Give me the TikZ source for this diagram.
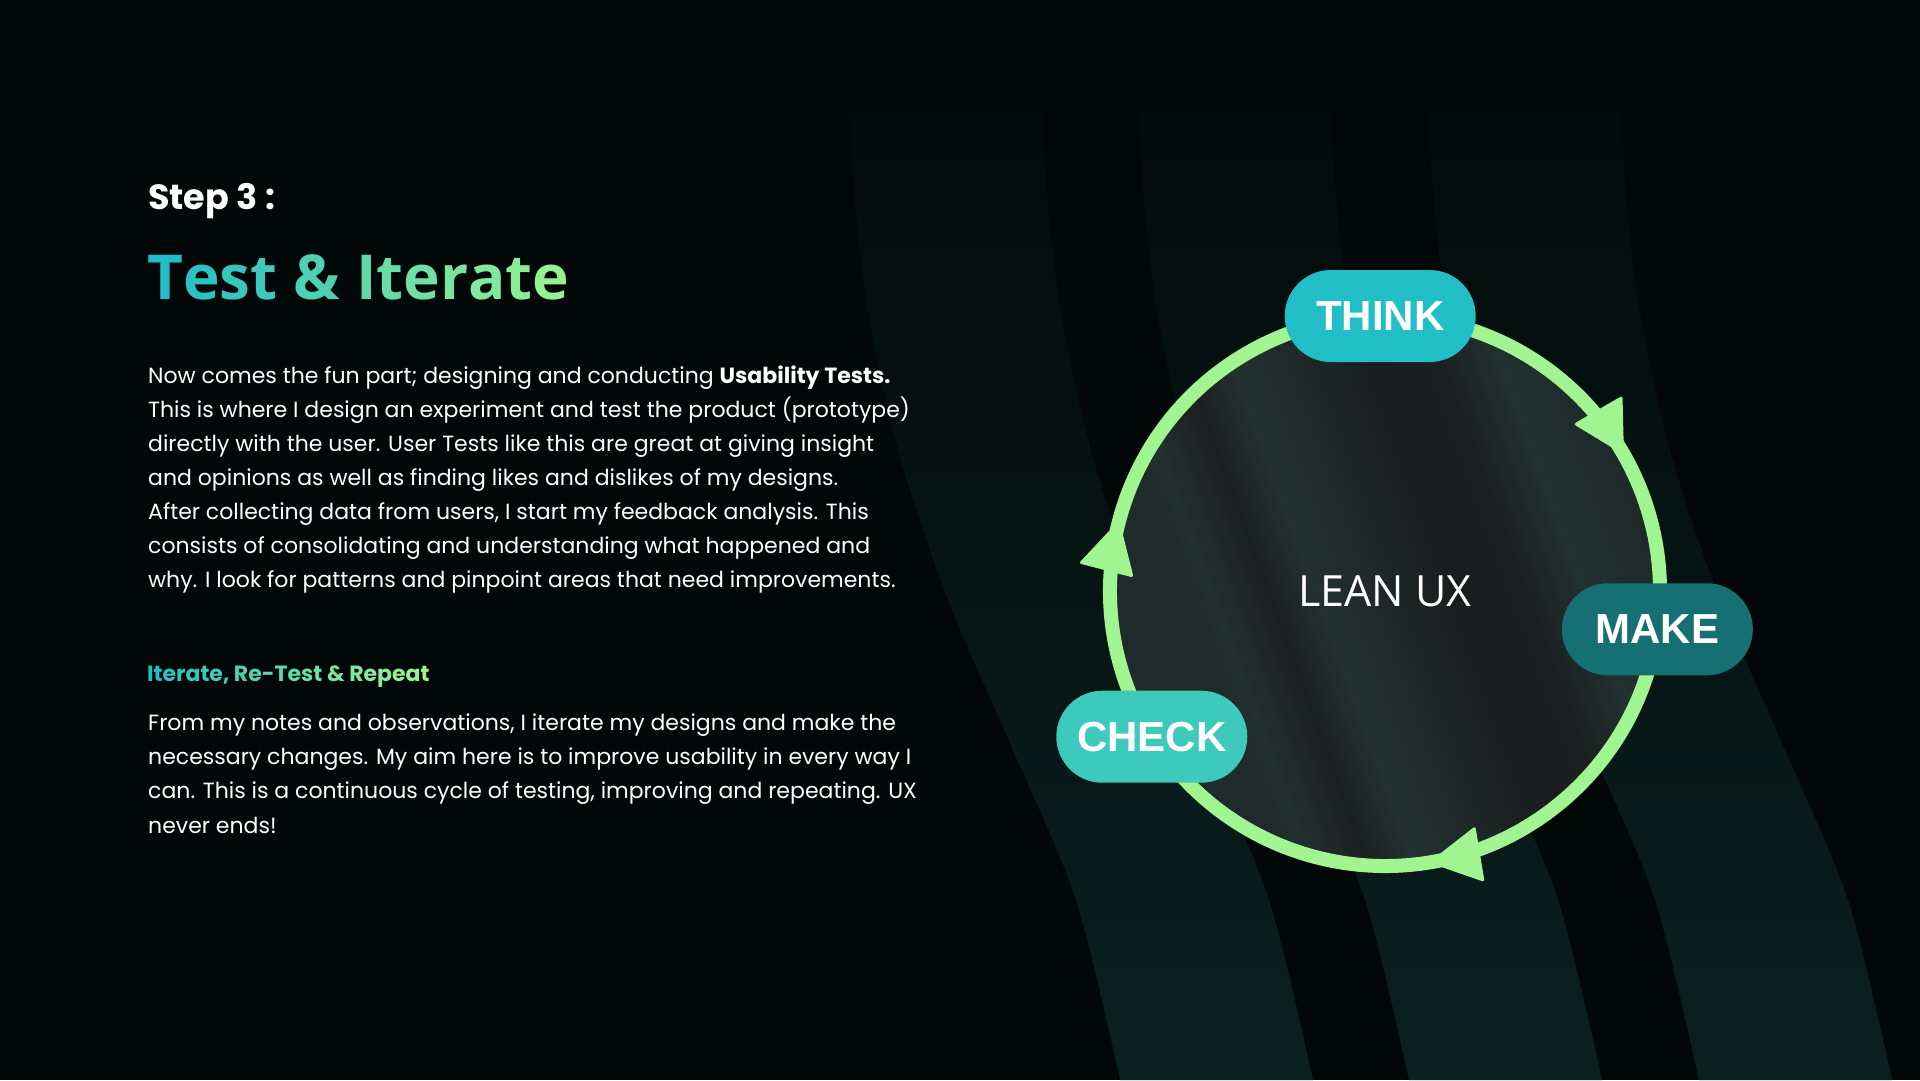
\documentclass[tikz,border=0pt]{standalone}
\usepackage{fontspec}
\setmainfont{Poppins}
\newfontfamily\titlefont{Open Sans}
\newfontfamily\leanfont{Open Sans}
\newfontfamily\pillfont{Liberation Sans}
\usetikzlibrary{arrows.meta,decorations.markings,shapes.misc}
\definecolor{bgc}{HTML}{010807}
\definecolor{bandc}{HTML}{0A201F}
\definecolor{ringc}{HTML}{A0F590}
\definecolor{thinkc}{HTML}{22BEC6}
\definecolor{makec}{HTML}{167073}
\definecolor{checkc}{HTML}{3DC9BC}
\definecolor{gA}{HTML}{22BCC8}
\definecolor{gB}{HTML}{9CF48F}
\definecolor{dA}{HTML}{1F2A2A}
\definecolor{dB}{HTML}{223030}
\definecolor{dC}{HTML}{1B1F1F}
\definecolor{dD}{HTML}{233131}
\definecolor{dE}{HTML}{1E2828}
\definecolor{dF}{HTML}{1A1D1D}
\definecolor{dG}{HTML}{1B1F1F}
\definecolor{dH}{HTML}{223131}
\pgfdeclarehorizontalshading{discsh}{100bp}{color(0bp)=(dA); color(25bp)=(dA); color(33bp)=(dA); color(35bp)=(dB); color(40bp)=(dC); color(44bp)=(dD); color(50bp)=(dE); color(56bp)=(dF); color(62bp)=(dG); color(67bp)=(dH); color(75bp)=(dE); color(100bp)=(dE)}
\pgfdeclarelayer{back}
\pgfdeclarelayer{ringl}
\pgfsetlayers{back,ringl,main}
\newcommand\gc[2]{\textcolor{gB!#1!gA}{#2}}
\tikzset{
  pill/.style={rounded rectangle, minimum width=191pt, minimum height=92pt, inner sep=0pt, text=white, font=\pillfont\bfseries\fontsize{42}{50}\selectfont},
  ring/.style={draw=ringc, line width=14pt},
  arrowmark/.style={decoration={markings, mark=at position #1 with {\arrow{Triangle[length=52pt,width=56pt,line width=3pt,round]}}}, postaction={decorate}},
  bodyline/.style={anchor=base west, inner sep=0pt, text=white, font=\fontsize{22}{26}\selectfont},
}
\begin{document}
\begin{tikzpicture}[x=1pt,y=1pt]
\useasboundingbox (0,0) rectangle (1920,1080);
\coordinate (C) at (1385,489);
% nodes
\node[pill, fill=thinkc] (THINK) at ([shift={(91:275pt)}]C) {THINK};
\node[pill, fill=makec] (MAKE) at ([shift={(-8:275pt)}]C) {MAKE};
\node[pill, fill=checkc] (CHECK) at ([shift={(212:275pt)}]C) {CHECK};
\node[text=white, font=\leanfont\fontsize{43}{50}\selectfont] (LEAN) at (C) {LEAN UX};
% background
\begin{pgfonlayer}{back}
\fill[bgc] (0,0) rectangle (1920,1080);
\foreach \x in {848,1137,1427} {
  \shade[top color=bgc, middle color=bandc!55!bgc, bottom color=bandc]
    plot[smooth] coordinates {({\x},1080) ({\x+3},930) ({\x+18},780) ({\x+50},630) ({\x+100},480) ({\x+165},330) ({\x+228},180) ({\x+272},0)}
    -- plot[smooth] coordinates {({\x+465},0) ({\x+421},180) ({\x+358},330) ({\x+293},480) ({\x+243},630) ({\x+211},780) ({\x+196},930) ({\x+193},1080)}
    -- cycle;
}
\fill[shading=discsh, shading angle=20] (C) circle[radius=275pt];
\end{pgfonlayer}
% ring connectors
\begin{pgfonlayer}{ringl}
\draw[ring, arrowmark=0.616] (THINK.center) arc[start angle=91, end angle=-8, radius=275pt];
\draw[ring, arrowmark=0.518] (MAKE.center) arc[start angle=-8, end angle=-148, radius=275pt];
\draw[ring, arrowmark=0.385] (CHECK.center) arc[start angle=212, end angle=91, radius=275pt];
\end{pgfonlayer}
% left text
\node[anchor=base west, inner sep=0pt, text=white, font=\bfseries\fontsize{35}{40}\selectfont] (step) at (148,870) {Step 3 :};
\node[anchor=base west, inner sep=0pt, font=\titlefont\bfseries\fontsize{62}{74}\selectfont] (title) at (147,780)
  {\gc{0}{T}\gc{8}{e}\gc{17}{s}\gc{24}{t} \gc{36}{\&} \gc{52}{I}\gc{57}{t}\gc{64}{e}\gc{72}{r}\gc{78}{a}\gc{86}{t}\gc{95}{e}};
\node[bodyline] (p1) at (148,696) {Now comes the fun part; designing and conducting \textbf{Usability Tests.}};
\node[bodyline] (p2) at (148,662) {This is where I design an experiment and test the product (prototype)};
\node[bodyline] (p3) at (148,628) {directly with the user. User Tests like this are great at giving insight};
\node[bodyline] (p4) at (148,594) {and opinions as well as finding likes and dislikes of my designs.};
\node[bodyline] (p5) at (148,560) {After collecting data from users, I start my feedback analysis. This};
\node[bodyline] (p6) at (148,526) {consists of consolidating and understanding what happened and};
\node[bodyline] (p7) at (148,492) {why. I look for patterns and pinpoint areas that need improvements.};
\node[anchor=base west, inner sep=0pt, font=\bfseries\fontsize{22}{26}\selectfont] (sub) at (147,398)
  {\gc{0}{I}\gc{4}{t}\gc{8}{e}\gc{13}{r}\gc{17}{a}\gc{21}{t}\gc{25}{e}\gc{29}{,} \gc{38}{R}\gc{42}{e}\gc{46}{-}\gc{50}{T}\gc{54}{e}\gc{58}{s}\gc{63}{t} \gc{71}{\&} \gc{79}{R}\gc{83}{e}\gc{88}{p}\gc{92}{e}\gc{96}{a}\gc{100}{t}};
\node[bodyline] (q1) at (148,349) {From my notes and observations, I iterate my designs and make the};
\node[bodyline] (q2) at (148,315) {necessary changes. My aim here is to improve usability in every way I};
\node[bodyline] (q3) at (148,281) {can. This is a continuous cycle of testing, improving and repeating. UX};
\node[bodyline] (q4) at (148,247) {never ends!};
\end{tikzpicture}
\end{document}
